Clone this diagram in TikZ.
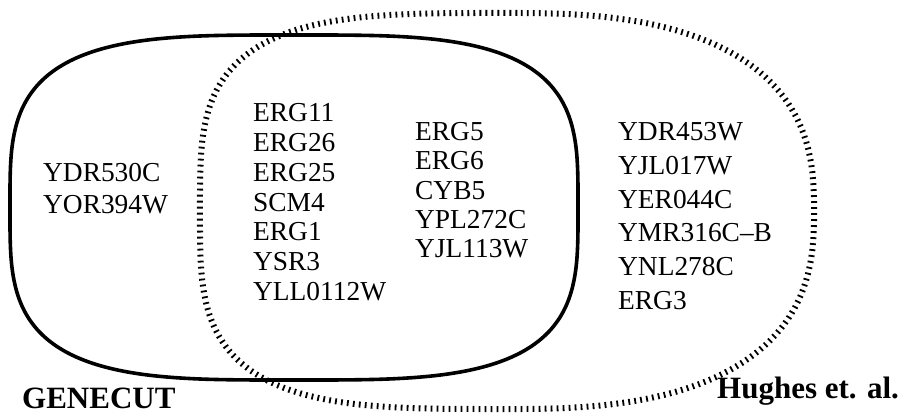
\documentclass[tikz,border=0pt]{standalone}
\usepackage{fontspec}
\setmainfont{Liberation Serif}
\begin{document}
\begin{tikzpicture}[x=1pt,y=-1pt,
  gene/.style={anchor=base west, inner sep=0pt, font=\fontsize{27.4}{30}\selectfont},
  setlabel/.style={anchor=base west, inner sep=0pt, font=\fontsize{31}{34}\selectfont\bfseries},
  solidset/.style={line width=3.6pt, line join=round},
  dottedset/.style={line width=6pt, dash pattern=on 1.8pt off 4.2pt}]
\useasboundingbox (0,0) rectangle (901,414);
% GENECUT set (solid)
\draw[solidset] plot[smooth cycle, domain=1:359, samples=180]
  ({294+284*sign(cos(\x))*pow(abs(cos(\x)),0.5714)},
   {207.5+172.5*sign(sin(\x))*pow(abs(sin(\x)),0.5714)});
% Hughes et. al. set (dotted)
\draw[dottedset]
  plot[domain=-89:89, samples=90]
  ({507+307*pow(cos(\x),0.769)},
   {211+198*sign(sin(\x))*pow(abs(sin(\x)),0.769)})
  -- plot[domain=91:269, samples=90]
  ({507-307*pow(abs(cos(\x)),0.5714)},
   {211+198*sign(sin(\x))*pow(abs(sin(\x)),0.5714)})
  -- cycle;
% gene lists
\foreach \g [count=\i] in {YDR530C,YOR394W}
  \node[gene] (a\i) at (43,{182+31*(\i-1)}) {\g};
\foreach \g [count=\i] in {ERG11,ERG26,ERG25,SCM4,ERG1,YSR3,YLL0112W}
  \node[gene] (b\i) at (253,{122+29.7*(\i-1)}) {\g};
\foreach \g [count=\i] in {ERG5,ERG6,CYB5,YPL272C,YJL113W}
  \node[gene] (c\i) at (415,{141+29*(\i-1)}) {\g};
\foreach \g [count=\i] in {YDR453W,YJL017W,YER044C,YMR316C\textendash B,YNL278C,ERG3}
  \node[gene] (d\i) at (618,{141+33.6*(\i-1)}) {\g};
% set labels
\node[setlabel] (genecut) at (22,408) {GENECUT};
\node[setlabel] (hughes) at (717,398) {Hughes et. al.};
\end{tikzpicture}
\end{document}
